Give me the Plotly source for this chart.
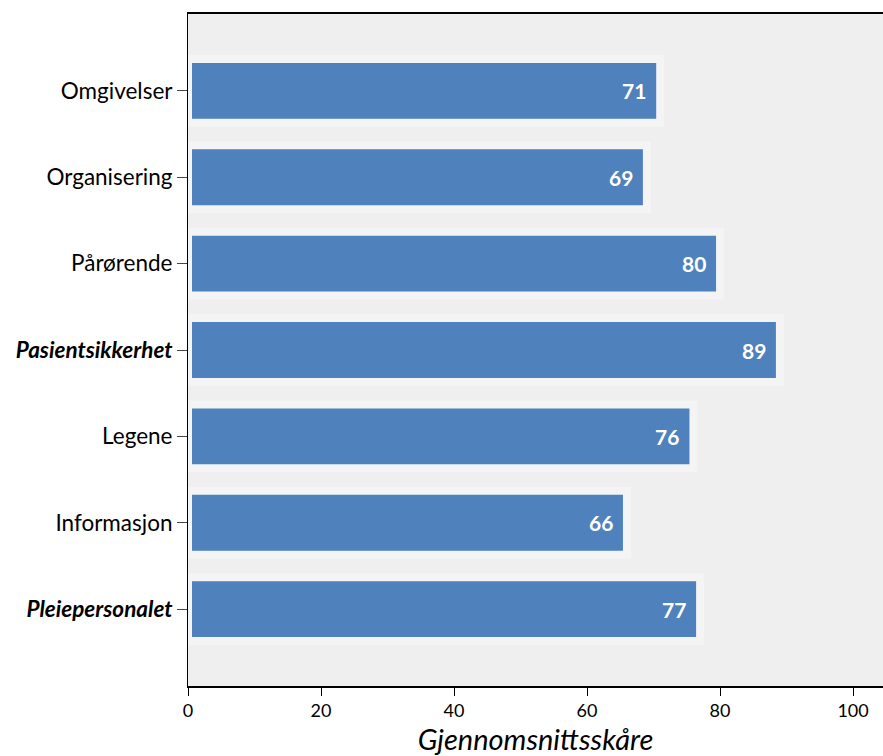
import plotly.graph_objects as go

# Average scores per domain
categories = ["Omgivelser", "Organisering", "Pårørende", "Pasientsikkerhet",
              "Legene", "Informasjon", "Pleiepersonalet"]
scores = [71, 69, 80, 89, 76, 66, 77]
# Domains highlighted with bold italic labels
highlighted = {"Pasientsikkerhet", "Pleiepersonalet"}

x_ticks = [0, 20, 40, 60, 80, 100]

tick_text = [f"<b><i>{c}</i></b>" if c in highlighted else c for c in categories]
y_pos = list(range(len(categories)))

BAR = "#4f81bd"
BG = "#efefef"
HALO = "#f4f4f4"
FONT = "Lato, 'Open Sans', sans-serif"

fig = go.Figure(
    go.Bar(
        x=scores,
        y=y_pos,
        orientation="h",
        width=0.74,
        marker=dict(color=BAR, line=dict(color=HALO, width=8)),
        hoverinfo="x+y",
    )
)

# Score labels inside the bar ends
for yi, v in zip(y_pos, scores):
    fig.add_annotation(
        x=v, y=yi, text=f"<b>{v}</b>", showarrow=False,
        xanchor="right", xshift=-12,
        font=dict(family=FONT, size=21, color="white"),
    )

fig.update_layout(
    width=883,
    height=756,
    margin=dict(l=188, r=0, t=14, b=70),
    paper_bgcolor="white",
    plot_bgcolor=BG,
    showlegend=False,
    font=dict(family=FONT, color="black"),
    xaxis=dict(
        range=[0, 104.5],
        tickvals=x_ticks,
        ticks="outside",
        ticklen=8,
        tickcolor="black",
        tickfont=dict(size=18),
        showgrid=False,
        zeroline=False,
        showline=True,
        linecolor="black",
        linewidth=1.5,
        mirror=True,
        title=dict(text="<i>Gjennomsnittsskåre</i>", font=dict(size=29), standoff=4),
    ),
    yaxis=dict(
        range=[6.89, -0.89],
        tickvals=y_pos,
        ticktext=tick_text,
        ticks="outside",
        ticklen=10,
        tickcolor="#444",
        tickfont=dict(size=22.5),
        showgrid=False,
        zeroline=False,
        showline=True,
        linecolor="black",
        linewidth=1,
        layer="below traces",
    ),
)

fig.write_html("out.html")
